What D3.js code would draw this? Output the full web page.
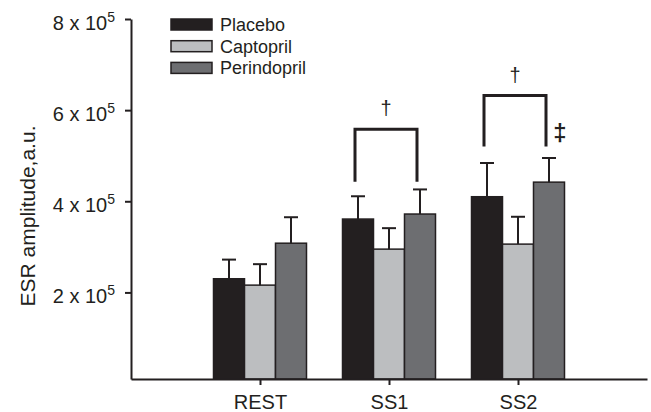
<!DOCTYPE html>
<html>
<head>
<meta charset="utf-8">
<script src="https://cdn.jsdelivr.net/npm/d3@7"></script>
<style>
  body { margin: 0; background: #fff; }
  text { font-family: "Liberation Sans", Arial, sans-serif; fill: #231f20; }
</style>
</head>
<body>
<svg id="plot"></svg>
<script>
const width = 651
const height = 412

// Data (values in a.u.)
const categories = ['REST', 'SS1', 'SS2'];
const series = ['Placebo', 'Captopril', 'Perindopril'];
const colors = ['#231f20', '#bcbec0', '#6d6e71'];
const placebo = [230000, 361000, 410000];
const placeboErr = [42000, 50000, 74000];
const captopril = [216000, 295000, 306000];
const captoprilErr = [46000, 46000, 60000];
const perindopril = [308000, 372000, 442000];
const perindoprilErr = [57000, 54000, 53000];
const yTicks = [200000, 400000, 600000, 800000];

// Significance brackets (placebo vs perindopril)
const bracketCategories = ['SS1', 'SS2'];
const bracketTop = [558000, 632000];
const bracketBottom = [443000, 520000];
const bracketSymbols = ['\u2020', '\u2020'];
// Extra marker next to SS2 perindopril
const markerCategory = 'SS2';
const markerValue = 533000;
const markerSymbol = '\u2021';

const values = [placebo, captopril, perindopril];
const errors = [placeboErr, captoprilErr, perindoprilErr];

var svg = d3.select('#plot')
    .attr('width', width)
    .attr('height', height);

// Scales: categories sit at positions 1..3 on a 0..4 axis
var x = d3.scaleLinear()
    .domain([0, categories.length + 1])
    .range([131, 647]);

var y = d3.scaleLinear()
    .domain([10000, 800000])
    .range([379, 19]);

var inner = d3.scaleBand()
    .domain(series)
    .range([-46.5, 46.5]);

function cx(cat) { return x(categories.indexOf(cat) + 1); }

// Bars
var bars = [];
series.forEach(function (s, si) {
    categories.forEach(function (c, ci) {
        bars.push({ cat: c, series: s, color: colors[si], value: values[si][ci], err: errors[si][ci] });
    });
});

svg.append('g').selectAll('rect')
    .data(bars)
    .enter()
    .append('rect')
    .attr('x', d => cx(d.cat) + inner(d.series))
    .attr('y', d => y(d.value))
    .attr('width', inner.bandwidth())
    .attr('height', d => y.range()[0] - y(d.value))
    .attr('fill', d => d.color)
    .attr('stroke', '#231f20')
    .attr('stroke-width', 1.5);

// Error bars (upper only)
var eb = svg.append('g')
    .attr('stroke', '#231f20')
    .attr('stroke-width', 2);
bars.forEach(function (d) {
    var bx = cx(d.cat) + inner(d.series) + inner.bandwidth() / 2;
    eb.append('line')
        .attr('x1', bx).attr('x2', bx)
        .attr('y1', y(d.value)).attr('y2', y(d.value + d.err));
    eb.append('line')
        .attr('x1', bx - 7).attr('x2', bx + 7)
        .attr('y1', y(d.value + d.err)).attr('y2', y(d.value + d.err));
});

// Axes
var xAxis = svg.append('g')
    .attr('transform', `translate(0,${y.range()[0]})`)
    .call(d3.axisBottom(x)
        .tickValues(categories.map((c, i) => i + 1))
        .tickFormat(i => categories[i - 1])
        .tickSize(6)
        .tickSizeOuter(0));
xAxis.selectAll('text')
    .attr('dy', '1.05em')
    .style('font-size', '20px');

var yAxis = svg.append('g')
    .attr('transform', `translate(${x.range()[0]},0)`)
    .call(d3.axisLeft(y)
        .tickValues(yTicks)
        .tickFormat('')
        .tickSize(6)
        .tickSizeOuter(0));
yAxis.selectAll('.tick').append('text')
    .attr('x', -16)
    .attr('y', 10)
    .attr('text-anchor', 'end')
    .style('font-size', '20px')
    .call(function (t) {
        t.append('tspan').text(d => (d / 100000) + ' x 10');
        t.append('tspan').attr('dy', -8).style('font-size', '14px').text('5');
    });

svg.selectAll('.domain, .tick line')
    .attr('stroke', '#231f20')
    .attr('stroke-width', 2);

// Y axis label
svg.append('text')
    .attr('transform', 'translate(35,216) rotate(-90)')
    .attr('text-anchor', 'middle')
    .style('font-size', '21px')
    .text('ESR amplitude,a.u.');

// Brackets
var br = svg.append('g');
bracketCategories.forEach(function (c, i) {
    var x1 = cx(c) + inner('Placebo') + inner.bandwidth() / 2 - 3;
    var x2 = cx(c) + inner('Perindopril') + inner.bandwidth() / 2 - 3;
    br.append('path')
        .attr('d', `M${x1},${y(bracketBottom[i])}V${y(bracketTop[i])}H${x2}V${y(bracketBottom[i])}`)
        .attr('fill', 'none')
        .attr('stroke', '#231f20')
        .attr('stroke-width', 3);
    br.append('text')
        .attr('x', (x1 + x2) / 2)
        .attr('y', y(bracketTop[i]) - 14)
        .attr('text-anchor', 'middle')
        .attr('fill', '#231f20')
        .style('font-size', '20px')
        .text(bracketSymbols[i]);
});

svg.append('text')
    .attr('x', cx(markerCategory) + inner('Perindopril') + inner.bandwidth() / 2 + 11)
    .attr('y', y(markerValue))
    .attr('text-anchor', 'middle')
    .attr('fill', '#231f20')
    .style('font-size', '24px')
    .style('font-weight', 'bold')
    .text(markerSymbol);

// Legend
var legend = svg.append('g')
    .attr('transform', 'translate(171,19)');
var item = legend.selectAll('g')
    .data(series)
    .enter()
    .append('g')
    .attr('transform', (d, i) => `translate(0,${i * 21.7})`);
item.append('rect')
    .attr('width', 41)
    .attr('height', 11)
    .attr('fill', (d, i) => colors[i])
    .attr('stroke', '#231f20')
    .attr('stroke-width', 1.5);
item.append('text')
    .attr('x', 49)
    .attr('y', 12)
    .style('font-size', '18px')
    .text(d => d);
</script>
</body>
</html>
